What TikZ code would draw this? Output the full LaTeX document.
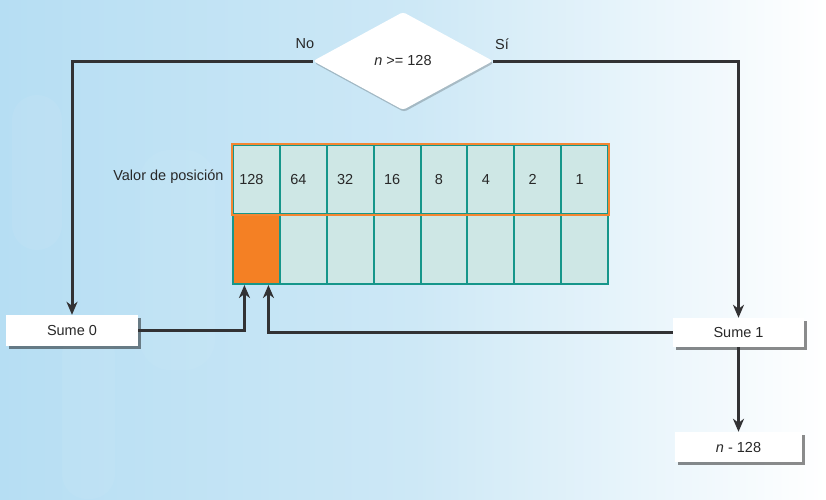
\documentclass[tikz,border=0pt]{standalone}
\usepackage{fontspec}
\setmainfont{Liberation Sans}
\usetikzlibrary{shapes.geometric,shadows,arrows.meta,calc}
\definecolor{bgblue}{RGB}{182,222,243}
\definecolor{bgmid}{RGB}{205,232,246}
\definecolor{linegray}{RGB}{50,50,52}
\definecolor{cellfill}{RGB}{206,231,229}
\definecolor{tealline}{RGB}{22,150,138}
\definecolor{orangeb}{RGB}{245,134,50}
\definecolor{orangef}{RGB}{244,128,36}
\definecolor{txt}{RGB}{40,40,40}
\begin{document}
\begin{tikzpicture}[x=1pt,y=-1pt,
  every node/.style={font=\fontsize{14.5}{17}\selectfont, text=txt},
  conn/.style={draw=linegray, line width=3pt, -{Stealth[length=13pt,width=11pt,inset=4pt]}},
  box/.style={fill=white, inner sep=0pt, minimum height=31pt,
    drop shadow={shadow xshift=3pt, shadow yshift=-3pt, fill=black, opacity=0.45}},
  cell/.style={draw=tealline, line width=2pt, fill=cellfill, inner sep=0pt,
    minimum width=46.875pt},
  decision/.style={diamond, aspect=1.84, minimum width=180pt, minimum height=98pt,
    inner sep=0pt, fill=white, rounded corners=3pt,
    drop shadow={shadow xshift=1pt, shadow yshift=-2pt, fill=black, opacity=0.2}}
]
% background
\useasboundingbox (0,0) rectangle (826,499);
\shade[left color=bgblue, right color=white, middle color=bgmid] (0,0) rectangle (826,499);
\fill[white, opacity=0.06, rounded corners=25pt] (12,95) rectangle (62,250);
\fill[white, opacity=0.05, rounded corners=25pt] (62,330) rectangle (115,499);
\fill[white, opacity=0.04, rounded corners=30pt] (140,150) rectangle (215,370);

% decision
\node[decision] (dia) at (403,61) {\textit{n} >= 128};
\node (no) at (305,44) {No};
\node (si) at (502,44) {Sí};

% table
\foreach \v [count=\i] in {128,64,32,16,8,4,2,1} {
  \node[cell, minimum height=69pt] (t\i) at ({233+46.875*(\i-0.5)},179.5) {\hspace*{-10pt}\v};
  \node[cell, minimum height=70pt] (b\i) at ({233+46.875*(\i-0.5)},249) {};
}
\node[cell, minimum height=70pt, fill=orangef] (ob) at (b1) {};
\draw[orangeb, line width=2pt] (t1.north west) rectangle (t8.south east);
\node[anchor=east] (vp) at (227,177) {Valor de posición};

% boxes
\node[box, minimum width=132pt] (s0) at (72,330.5) {Sume 0};
\node[box, minimum width=131pt, minimum height=29pt] (s1) at (738.5,332.5) {Sume 1};
\node[box, minimum width=127pt, minimum height=30pt] (nm) at (738.5,447) {\textit{n} - 128};

% connectors
\draw[conn] (dia.west) -| (s0.north);
\draw[conn] (dia.east) -| (s1.north);
\draw[conn] (s0.east) -| ($(ob.south)+(-12,0)$);
\draw[conn] (s1.west) -| ($(ob.south)+(12,0)$);
\draw[conn] (s1.south) -- (nm.north);
\end{tikzpicture}
\end{document}
